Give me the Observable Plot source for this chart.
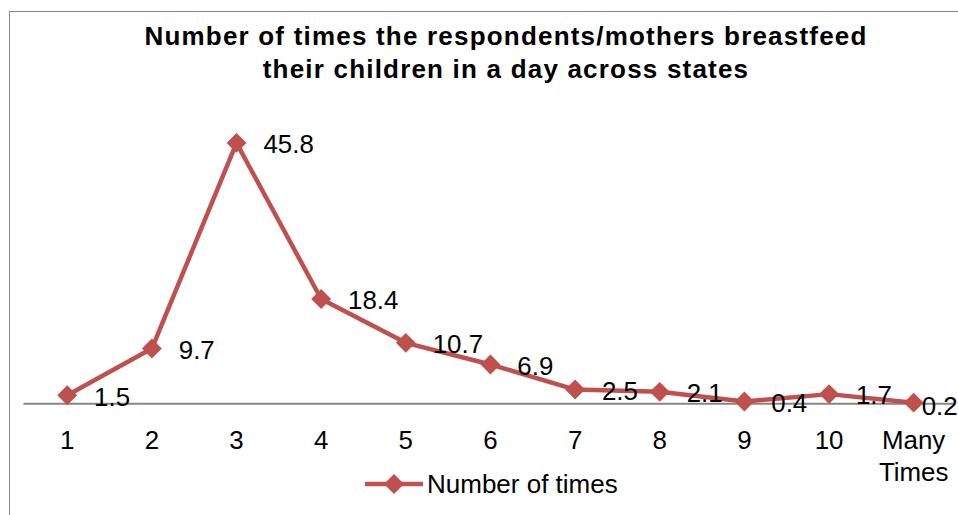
<!DOCTYPE html>
<html>
<head>
<meta charset="utf-8">
<script src="https://cdn.jsdelivr.net/npm/d3@7"></script>
<script src="https://cdn.jsdelivr.net/npm/@observablehq/plot@0.6"></script>
<style>
  html, body { margin: 0; padding: 0; background: #fff; }
  body { width: 958px; height: 515px; overflow: hidden; position: relative; font-family: "Liberation Sans", Arial, sans-serif; }
  #frame { position: absolute; left: 9px; top: 11px; width: 1000px; height: 600px; border-left: 1.5px solid #888; border-top: 1.5px solid #888; }
  #title { position: absolute; left: 6px; width: 1000px; top: 20px; text-align: center; font-weight: bold; font-size: 26px; line-height: 33px; letter-spacing: 1.2px; color: #000; }
  #chart { position: absolute; left: 0; top: 0; }
  #legend { position: absolute; left: 365px; top: 469px; height: 30px; display: flex; align-items: center; font-size: 26px; color: #000; }
  #legend svg { margin-right: 4px; }
</style>
</head>
<body>
<div id="frame"></div>
<div id="title">Number of times the respondents/mothers breastfeed<br>their children in a day across states</div>
<div id="chart"></div>
<div id="legend"><svg width="58" height="24"><line x1="1" y1="12" x2="57" y2="12" stroke="#c0504d" stroke-width="4.5" stroke-linecap="round"/><polygon points="29,2 39,12 29,22 19,12" fill="#c0504d"/></svg><span>Number of times</span></div>
<script>
const categories = ["1", "2", "3", "4", "5", "6", "7", "8", "9", "10", "Many Times"];
const values = [1.5, 9.7, 45.8, 18.4, 10.7, 6.9, 2.5, 2.1, 0.4, 1.7, 0.2];
const seriesName = "Number of times";
const lineColor = "#c0504d";

const data = categories.map((c, i) => ({cat: c, val: values[i]}));
const inner = data.slice(0, -1);
const last = data.slice(-1);

const chart = Plot.plot({
  width: 962,
  height: 515,
  marginLeft: 23.5,
  marginRight: 2.5,
  marginTop: 119,
  marginBottom: 110,
  style: {fontFamily: "'Liberation Sans', Arial, sans-serif", fontSize: "26px", color: "#000", background: "transparent", overflow: "visible"},
  x: {type: "point", domain: categories, padding: 0.5, label: null},
  y: {domain: [0, 50], axis: null},
  marks: [
    Plot.ruleY([0], {stroke: "#868686", strokeWidth: 2}),
    Plot.axisX({tickSize: 0, tickPadding: 22, tickFormat: d => d === "Many Times" ? "Many\nTimes" : d, lineHeight: 1.25, fill: "#000", label: null}),
    Plot.line(data, {x: "cat", y: "val", stroke: lineColor, strokeWidth: 4.5}),
    Plot.dot(data, {x: "cat", y: "val", symbol: "diamond2", r: 9, fill: lineColor, stroke: "none"}),
    Plot.text(inner, {x: "cat", y: "val", text: d => d.val.toFixed(1), textAnchor: "start", dx: 27, dy: 2, fill: "#000"}),
    Plot.text(last, {x: "cat", y: "val", text: d => d.val.toFixed(1), textAnchor: "start", dx: 8, dy: 4, fill: "#000"})
  ]
});
document.getElementById("chart").appendChild(chart);
</script>
</body>
</html>
